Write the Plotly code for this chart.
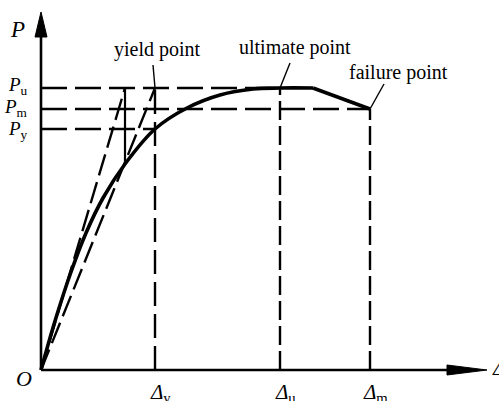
import plotly.graph_objects as go

# ---- data (schematic load–displacement curve) ----
curve_disp = [0, 14, 30, 45, 62, 84, 114, 146, 179, 212, 239, 272]
curve_load = [0, 49, 98, 137, 172, 206, 241, 262, 275, 281, 282, 282]
tail_disp = [272, 329]
tail_load = [282, 261]

delta_y, delta_u, delta_m = 114, 239, 329
P_u, P_m, P_y = 282, 261, 241
delta_a = 84          # where initial tangent reaches P_u
P_b = 206             # load on curve at delta_a

x_end, y_end = 446, 358

FONT = "Liberation Serif"
BLK = "black"
DASH_H = "26px,8px"
DASH_V = "19px,6px"
DASH_D = "22px,7px"

fig = go.Figure()

def line(xs, ys, width=2.4, dash=DASH_H, shape="linear"):
    fig.add_trace(go.Scatter(x=xs, y=ys, mode="lines",
                             line=dict(color=BLK, width=width, dash=dash, shape=shape),
                             hoverinfo="skip", showlegend=False))

# horizontal dashed lines
line([0, delta_u], [P_u, P_u])
line([0, delta_m], [P_m, P_m])
line([0, delta_y], [P_y, P_y])
# vertical dashed lines
line([delta_y, delta_y], [0, P_u], dash="24px,8px")
line([delta_u, delta_u], [0, P_u], dash=DASH_V)
line([delta_m, delta_m], [0, P_m], dash=DASH_V)
# construction lines
line([0, delta_a], [0, P_u], dash=DASH_D)
line([0, delta_y], [0, P_u], dash=DASH_D)
line([delta_a, delta_a], [P_b, P_u], width=2.2, dash="solid")

# main curve
line(curve_disp, curve_load, width=3.6, dash="solid", shape="spline")
line(tail_disp, tail_load, width=3.6, dash="solid")

# axes
line([0, 0], [0, y_end - 20], width=2.6, dash="solid")
line([0, x_end - 30], [0, 0], width=2.6, dash="solid")
fig.add_trace(go.Scatter(x=[-6, 6, 0, -6], y=[y_end - 25, y_end - 25, y_end, y_end - 25],
                         mode="lines", fill="toself", fillcolor=BLK,
                         line=dict(color=BLK, width=1), hoverinfo="skip", showlegend=False))
fig.add_trace(go.Scatter(x=[x_end - 40, x_end - 40, x_end, x_end - 40], y=[-5, 5, 0, -5],
                         mode="lines", fill="toself", fillcolor=BLK,
                         line=dict(color=BLK, width=1), hoverinfo="skip", showlegend=False))

# leader lines
line([112, delta_y], [305, P_u], width=1.4, dash="solid")
line([249, delta_u], [307, P_u], width=1.4, dash="solid")
line([343, delta_m], [286, P_m], width=1.4, dash="solid")

def txt(x, y, s, size=18, xa="center", ya="middle"):
    fig.add_annotation(x=x, y=y, text=s, showarrow=False, xanchor=xa, yanchor=ya,
                       font=dict(family=FONT, size=size, color=BLK))

txt(-24, 341, "<i>P</i>", size=23)
txt(-11, P_u + 2, "<i>P</i><sub>u</sub>", size=19, xa="right")
txt(-11, P_m + 1, "<i>P</i><sub>m</sub>", size=19, xa="right")
txt(-11, P_y - 1, "<i>P</i><sub>y</sub>", size=19, xa="right")
txt(-17, -8, "<i>O</i>", size=22)
txt(delta_y + 5, -23, "<i>Δ</i><sub>y</sub>", size=21)
txt(delta_u + 5, -23, "<i>Δ</i><sub>u</sub>", size=21)
txt(delta_m + 5, -23, "<i>Δ</i><sub>m</sub>", size=21)
txt(449, 3, "<i>Δ</i>", size=22, xa="left")
txt(delta_y + 2, 321, "yield point", size=20)
txt(254, 323, "ultimate point", size=20)
txt(357, 298, "failure point", size=20)

fig.update_layout(
    width=499, height=401,
    margin=dict(l=0, r=0, t=0, b=0),
    paper_bgcolor="white", plot_bgcolor="white",
    xaxis=dict(range=[-41, 458], visible=False, fixedrange=True),
    yaxis=dict(range=[-31, 370], visible=False, fixedrange=True),
    showlegend=False,
)
fig.write_html("out.html", config={"displayModeBar": False},
               post_script="document.body.style.margin='0';document.body.style.overflow='hidden';")
